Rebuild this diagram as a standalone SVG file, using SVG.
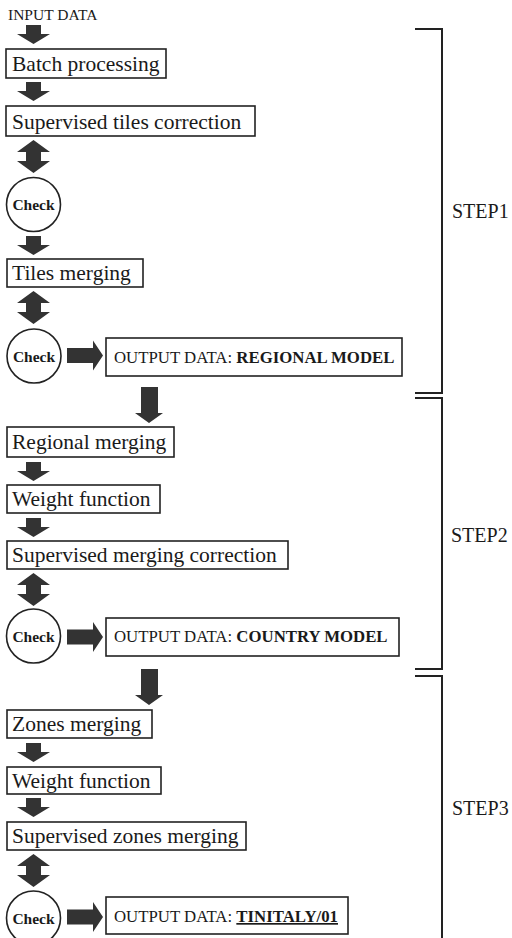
<svg xmlns="http://www.w3.org/2000/svg" xmlns:xlink="http://www.w3.org/1999/xlink" width="512" height="938" viewBox="0 0 512 938">
<style>
  .box { fill: #fff; stroke: #222; stroke-width: 1.6; }
  .circ { fill: #fff; stroke: #222; stroke-width: 1.6; }
  .lbl { font-family: "Liberation Serif", "Times New Roman", serif; font-size: 21.5px; fill: #1a1a1a; }
  .out { font-family: "Liberation Serif", "Times New Roman", serif; font-size: 16.8px; fill: #1a1a1a; }
  .chk { font-family: "Liberation Serif", "Times New Roman", serif; font-size: 15.5px; font-weight: bold; fill: #1a1a1a; }
  .step { font-family: "Liberation Serif", "Times New Roman", serif; font-size: 20px; fill: #1a1a1a; }
  .arr { fill: #333; }
  .brk { fill: none; stroke: #222; stroke-width: 2; }
</style>
<defs>
  <path id="dn" class="arr" d="M26,0 H41 V9 H50 L33.5,19 L17,9 H26 Z"/>
  <path id="dbl" class="arr" d="M33.5,0 L50,12 H41 V21 H50 L33.5,33 L17,21 H26 V12 H17 Z"/>
  <path id="rt" class="arr" d="M67,-7.5 H93 V-15 L103,0 L93,15 V7.5 H67 Z"/>
  <path id="bigdn" class="arr" d="M141,0 H158 V26 H163 L149,36 L135,26 H141 Z"/>
</defs>

<g id="connectors">
  <use xlink:href="#dn" y="25"/>
  <use xlink:href="#dn" y="82"/>
  <use xlink:href="#dbl" y="140"/>
  <use xlink:href="#dn" y="236"/>
  <use xlink:href="#dbl" y="291"/>
  <use xlink:href="#rt" y="355.5"/>
  <use xlink:href="#bigdn" y="387"/>
  <use xlink:href="#dn" y="462"/>
  <use xlink:href="#dn" y="518"/>
  <use xlink:href="#dbl" y="573"/>
  <use xlink:href="#rt" y="637"/>
  <use xlink:href="#bigdn" y="669"/>
  <use xlink:href="#dn" y="743"/>
  <use xlink:href="#dn" y="798"/>
  <use xlink:href="#dbl" y="854"/>
  <use xlink:href="#rt" y="917"/>
</g>

<g id="input">
  <text x="8" y="20" font-family="Liberation Serif, serif" font-size="15.5" fill="#1a1a1a">INPUT DATA</text>
</g>

<g id="batch">
  <rect class="box" x="6" y="49" width="160" height="29"/>
  <text class="lbl" x="12" y="71">Batch processing</text>
</g>
<g id="stc">
  <rect class="box" x="6" y="106" width="249" height="30"/>
  <text class="lbl" x="12" y="128.5">Supervised tiles correction</text>
</g>
<g id="check1">
  <circle class="circ" cx="33.5" cy="204.5" r="27"/>
  <text class="chk" x="33.5" y="210" text-anchor="middle">Check</text>
</g>
<g id="tiles">
  <rect class="box" x="7" y="259" width="136" height="28"/>
  <text class="lbl" x="12" y="280">Tiles merging</text>
</g>
<g id="check2">
  <circle class="circ" cx="34" cy="356" r="27"/>
  <text class="chk" x="34" y="361.5" text-anchor="middle">Check</text>
</g>
<g id="out1">
  <rect class="box" x="106" y="338" width="296" height="38"/>
  <text class="out" x="114" y="363">OUTPUT DATA: <tspan font-weight="bold">REGIONAL MODEL</tspan></text>
</g>

<g id="regional">
  <rect class="box" x="7" y="427" width="167" height="30"/>
  <text class="lbl" x="12" y="449">Regional merging</text>
</g>
<g id="weight1">
  <rect class="box" x="7" y="485" width="153" height="28"/>
  <text class="lbl" x="12" y="506">Weight function</text>
</g>
<g id="smc">
  <rect class="box" x="7" y="541" width="281" height="28"/>
  <text class="lbl" x="12" y="562">Supervised merging correction</text>
</g>
<g id="check3">
  <circle class="circ" cx="33.5" cy="636" r="27"/>
  <text class="chk" x="33.5" y="641.5" text-anchor="middle">Check</text>
</g>
<g id="out2">
  <rect class="box" x="106" y="618" width="293" height="38"/>
  <text class="out" x="114" y="642">OUTPUT DATA: <tspan font-weight="bold">COUNTRY MODEL</tspan></text>
</g>

<g id="zones">
  <rect class="box" x="7" y="710" width="145" height="28"/>
  <text class="lbl" x="12" y="731">Zones merging</text>
</g>
<g id="weight2">
  <rect class="box" x="7" y="767" width="154" height="27"/>
  <text class="lbl" x="12" y="788">Weight function</text>
</g>
<g id="szm">
  <rect class="box" x="7" y="822" width="239" height="28"/>
  <text class="lbl" x="12" y="843">Supervised zones merging</text>
</g>
<g id="check4">
  <circle class="circ" cx="33.5" cy="918" r="27"/>
  <text class="chk" x="33.5" y="923.5" text-anchor="middle">Check</text>
</g>
<g id="out3">
  <rect class="box" x="106" y="897" width="242" height="37"/>
  <text class="out" x="114" y="922">OUTPUT DATA: <tspan font-weight="bold" text-decoration="underline">TINITALY/01</tspan></text>
</g>

<g id="steps">
  <path class="brk" d="M415,29 H442 V393 H415"/>
  <path class="brk" d="M415,398 H442 V669 H415"/>
  <path class="brk" d="M415,676 H442 V938"/>
  <text class="step" x="452" y="218">STEP1</text>
  <text class="step" x="451" y="542">STEP2</text>
  <text class="step" x="452" y="815">STEP3</text>
</g>
</svg>
